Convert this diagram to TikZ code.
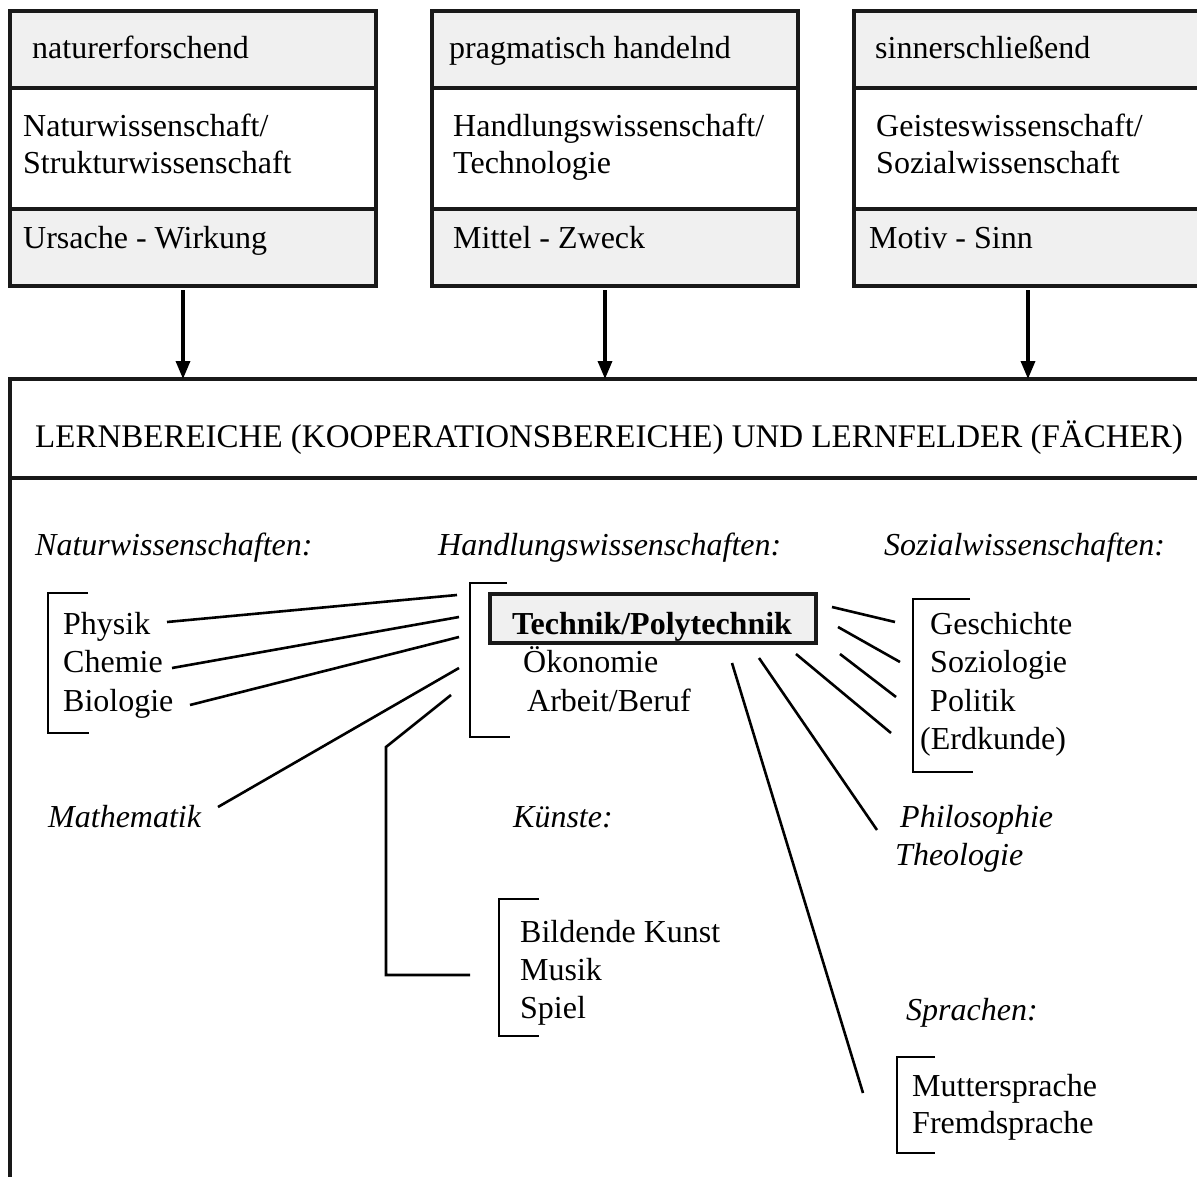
\documentclass[tikz,border=0pt]{standalone}
\usepackage{fontspec}
\setmainfont{Liberation Serif}
\usetikzlibrary{arrows.meta}
\definecolor{panelgray}{HTML}{F0F0F0}
\tikzset{
  txt/.style={anchor=base west, inner sep=0pt, font=\fontsize{32}{38}\selectfont},
  ital/.style={anchor=base west, inner sep=0pt, font=\fontsize{32}{38}\selectfont\itshape},
  bold/.style={anchor=base west, inner sep=0pt, font=\fontsize{32}{38}\selectfont\bfseries},
  rowbox/.style={draw=black!90, line width=3.2pt, anchor=north west, inner sep=0pt,
    outer sep=0pt, minimum width=366},
  grayrow/.style={rowbox, fill=panelgray},
  whiterow/.style={rowbox, fill=white},
  arr/.style={line width=3.4pt, -{Triangle[length=18pt,width=14pt]}},
  link/.style={line width=2.6pt},
  brack/.style={line width=2.8pt}
}
\begin{document}
\begin{tikzpicture}[x=1pt,y=-1pt]
\useasboundingbox (0,0) rectangle (1197,1177);
\clip (0,0) rectangle (1197,1177);
\fill[white] (0,0) rectangle (1197,1177);

% --- three approach boxes ---
\node[grayrow,  minimum height=77]  (a1) at (10,11)  {};
\node[whiterow, minimum height=121] (a2) at (10,88)  {};
\node[grayrow,  minimum height=77]  (a3) at (10,209) {};
\node[grayrow,  minimum height=77]  (b1) at (432,11)  {};
\node[whiterow, minimum height=121] (b2) at (432,88)  {};
\node[grayrow,  minimum height=77]  (b3) at (432,209) {};
\node[grayrow,  minimum height=77]  (c1) at (854,11)  {};
\node[whiterow, minimum height=121] (c2) at (854,88)  {};
\node[grayrow,  minimum height=77]  (c3) at (854,209) {};

\node[txt] (a1t)  at (32,59)   {naturerforschend};
\node[txt] (a2t)  at (23,137)  {Naturwissenschaft/};
\node[txt] (a2u)  at (23,174)  {Strukturwissenschaft};
\node[txt] (a3t)  at (23,249)  {Ursache - Wirkung};
\node[txt] (b1t)  at (449,59)  {pragmatisch handelnd};
\node[txt] (b2t)  at (453,137) {Handlungswissenschaft/};
\node[txt] (b2u)  at (453,174) {Technologie};
\node[txt] (b3t)  at (453,249) {Mittel - Zweck};
\node[txt] (c1t)  at (875,59)  {sinnerschließend};
\node[txt] (c2t)  at (876,137) {Geisteswissenschaft/};
\node[txt] (c2u)  at (876,174) {Sozialwissenschaft};
\node[txt] (c3t)  at (869,249) {Motiv - Sinn};

% --- learning areas frame ---
\node[draw=black!90, line width=3.2pt, anchor=north west, inner sep=0pt, outer sep=0pt,
      minimum width=1215, minimum height=99] (head) at (10,379) {};
\draw[line width=3.2pt, black!90] (head.south west) -- (10,1200);
\node[txt, font=\fontsize{33}{38}\selectfont] (headt) at (35,447)
  {LERNBEREICHE (KOOPERATIONSBEREICHE) UND LERNFELDER (FÄCHER)};

\coordinate (t1) at (183,379);
\coordinate (t2) at (605,379);
\coordinate (t3) at (1028,379);
\draw[arr, shorten <=4pt] (a3.south -| t1) -- (t1);
\draw[arr, shorten <=4pt] (b3.south -| t2) -- (t2);
\draw[arr, shorten <=4pt] (c3.south -| t3) -- (t3);

% --- group headings ---
\node[ital] (hn) at (35,555)  {Naturwissenschaften:};
\node[ital] (hh) at (438,555) {Handlungswissenschaften:};
\node[ital] (hs) at (884,555) {Sozialwissenschaften:};

% natural sciences
\draw[brack] (88,593) -- (48,593) -- (48,733) -- (89,733);
\node[txt] (phy) at (63,634) {Physik};
\node[txt] (che) at (63,672) {Chemie};
\node[txt] (bio) at (63,711) {Biologie};

% action sciences
\draw[brack] (507,583) -- (470,583) -- (470,737) -- (510,737);
\node[draw=black!90, line width=3.2pt, fill=panelgray, anchor=north west, inner sep=0pt,
      outer sep=0pt, minimum width=326, minimum height=49] (tech) at (490,594) {};
\node[bold] (techt) at (512,634) {Technik/Polytechnik};
\node[txt] (oek) at (523,672) {Ökonomie};
\node[txt] (arb) at (527,711) {Arbeit/Beruf};

% social sciences
\draw[brack] (970,599) -- (913,599) -- (913,772) -- (973,772);
\node[txt] (ges) at (930,634) {Geschichte};
\node[txt] (soz) at (930,672) {Soziologie};
\node[txt] (pol) at (930,711) {Politik};
\node[txt] (erd) at (920,749) {(Erdkunde)};

% further fields
\node[ital] (mat) at (48,827)  {Mathematik};
\node[ital] (kue) at (513,827) {Künste:};
\node[ital] (phi) at (900,827) {Philosophie};
\node[ital] (the) at (895,865) {Theologie};

\draw[brack] (539,899) -- (499,899) -- (499,1036) -- (539,1036);
\node[txt] (bil) at (520,942)  {Bildende Kunst};
\node[txt] (mus) at (520,980)  {Musik};
\node[txt] (spi) at (520,1018) {Spiel};

\node[ital] (spr) at (906,1020) {Sprachen:};
\draw[brack] (935,1057) -- (897,1057) -- (897,1153) -- (935,1153);
\node[txt] (mut) at (912,1096) {Muttersprache};
\node[txt] (fre) at (912,1133) {Fremdsprache};

% --- connectors ---
\coordinate (pA) at (167,622);  \coordinate (pB) at (457,595);
\coordinate (cA) at (172,668);  \coordinate (cB) at (459,617);
\coordinate (bA) at (190,705);  \coordinate (bB) at (459,637);
\coordinate (mA) at (218,807);  \coordinate (mB) at (459,668);
\coordinate (kA) at (451,695);  \coordinate (kK) at (386,747);
\coordinate (kL) at (386,975);  \coordinate (kB) at (470,975);
\draw[link] (pA) -- (pB);
\draw[link] (cA) -- (cB);
\draw[link] (bA) -- (bB);
\draw[link] (mA) -- (mB);
\draw[link] (kA) -- (kK) -- (kL) -- (kB);

\coordinate (r1A) at (832,607); \coordinate (r1B) at (895,622);
\coordinate (r2A) at (838,627); \coordinate (r2B) at (900,662);
\coordinate (r3A) at (840,654); \coordinate (r3B) at (896,697);
\coordinate (r4A) at (796,654); \coordinate (r4B) at (891,733);
\coordinate (r5A) at (759,658); \coordinate (r5B) at (877,830);
\coordinate (r6A) at (732,663); \coordinate (r6B) at (863,1093);
\draw[link] (r1A) -- (r1B);
\draw[link] (r2A) -- (r2B);
\draw[link] (r3A) -- (r3B);
\draw[link] (r4A) -- (r4B);
\draw[link] (r5A) -- (r5B);
\draw[link] (r6A) -- (r6B);
\end{tikzpicture}
\end{document}
